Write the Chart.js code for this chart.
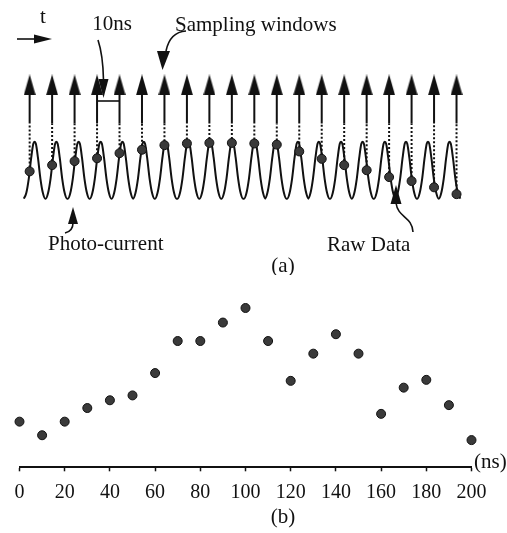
<!DOCTYPE html>
<html>
<head>
<meta charset="utf-8">
<script src="https://cdn.jsdelivr.net/npm/chart.js@4.4.1/dist/chart.umd.min.js"></script>
<style>
  html, body { margin: 0; padding: 0; background: #fff; }
  #wrap { position: relative; width: 507px; height: 533px; }
  #chartA { position: absolute; left: 0; top: 0; }
  #chartB { position: absolute; left: 0; top: 275px; }
</style>
</head>
<body>
<div id="wrap">
  <canvas id="chartA" width="507" height="275"></canvas>
  <canvas id="chartB" width="507" height="258"></canvas>
</div>
<script>
// (a) sampling schematic - times in ns, levels relative to pulse peak
const sampleTimes = [0, 10, 20, 30, 40, 50, 60, 70, 80, 90, 100, 110, 120, 130, 140, 150, 160, 170, 180, 190];
const sampleLevels = [0.48, 0.59, 0.66, 0.71, 0.80, 0.86, 0.94, 0.97, 0.98, 0.98, 0.97, 0.95, 0.83, 0.70, 0.59, 0.50, 0.38, 0.31, 0.20, 0.08];
const pulseTimes = [2.2, 11.9, 21.8, 31.6, 41.3, 50.8, 60.6, 70.6, 80.4, 90.2, 100.2, 109.5, 119.4, 128.7, 138.6, 148.2, 158.1, 167.5, 177.3, 186.9];
const pulseOffsets = [-4.8, -3.7, -2.6, -1.5, -0.6, 0, 0.6, 1.5, 2.6, 3.7, 4.8];
const pulseLevels = [0, 0.1, 0.35, 0.72, 0.96, 1, 0.96, 0.72, 0.35, 0.1, 0];

// (b) reconstructed data
const timeNs = [0, 10, 20, 30, 40, 50, 60, 70, 80, 90, 100, 110, 120, 130, 140, 150, 160, 170, 180, 190, 200];
const rawData = [4.7, 3.3, 4.7, 6.1, 6.9, 7.4, 9.7, 13.0, 13.0, 14.9, 16.4, 13.0, 8.9, 11.7, 13.7, 11.7, 5.5, 8.2, 9.0, 6.4, 2.8];
const timeTicks = [0, 20, 40, 60, 80, 100, 120, 140, 160, 180, 200];

const SERIF = '"Liberation Serif", "Times New Roman", serif';
const INK = '#111';

// where the sampling arrows go (in level units)
const STEM_TOP = 1.32;
const SHAFT_TOP = 1.84;
const HEAD_MID = 2.0;

function makeHead(w, h) {
    const c = document.createElement('canvas');
    c.width = w;
    c.height = h;
    const g = c.getContext('2d');
    g.fillStyle = INK;
    g.beginPath();
    g.moveTo(w / 2, 0);
    g.lineTo(w, h);
    g.lineTo(0, h);
    g.closePath();
    g.fill();
    return c;
}
const headUp = makeHead(12, 21);

function tri(ctx, pts) {
    ctx.beginPath();
    ctx.moveTo(pts[0][0], pts[0][1]);
    ctx.lineTo(pts[1][0], pts[1][1]);
    ctx.lineTo(pts[2][0], pts[2][1]);
    ctx.closePath();
    ctx.fill();
}

function label(ctx, text, x, y, align) {
    ctx.font = '21px ' + SERIF;
    ctx.fillStyle = INK;
    ctx.textAlign = align || 'left';
    ctx.textBaseline = 'middle';
    ctx.fillText(text, x, y);
}

// text and pointer arrows for panel (a)
const annotA = {
    id: 'annotA',
    afterDatasetsDraw(chart) {
        const ctx = chart.ctx;
        const xs = chart.scales.x;
        ctx.save();
        ctx.strokeStyle = INK;
        ctx.fillStyle = INK;
        ctx.lineWidth = 1.6;

        // time arrow
        label(ctx, 't', 43, 17, 'center');
        ctx.beginPath();
        ctx.moveTo(17, 39);
        ctx.lineTo(36, 39);
        ctx.stroke();
        tri(ctx, [[34, 34.5], [52, 39], [34, 43.5]]);

        // 10ns bracket between two sampling windows
        label(ctx, '10ns', 112, 24, 'center');
        ctx.beginPath();
        ctx.moveTo(98, 40);
        ctx.quadraticCurveTo(103, 55, 103.5, 80);
        ctx.stroke();
        tri(ctx, [[98.5, 79], [108.5, 79], [103.5, 98]]);
        ctx.beginPath();
        ctx.moveTo(xs.getPixelForValue(sampleTimes[3]), 101);
        ctx.lineTo(xs.getPixelForValue(sampleTimes[4]), 101);
        ctx.stroke();

        // sampling windows
        label(ctx, 'Sampling windows', 175, 25);
        ctx.beginPath();
        ctx.moveTo(186, 31);
        ctx.quadraticCurveTo(170, 32, 166, 51);
        ctx.stroke();
        tri(ctx, [[157, 51], [170, 51], [162.5, 70]]);

        // photo-current pointer
        tri(ctx, [[73, 207], [78, 224], [68, 224]]);
        ctx.beginPath();
        ctx.moveTo(73, 223);
        ctx.quadraticCurveTo(73, 231, 65, 233);
        ctx.stroke();
        label(ctx, 'Photo-current', 48, 244);

        // raw data pointer
        tri(ctx, [[396, 185], [401.5, 204], [390.5, 204]]);
        ctx.beginPath();
        ctx.moveTo(396, 203);
        ctx.bezierCurveTo(398, 218, 412, 216, 413, 232);
        ctx.stroke();
        label(ctx, 'Raw Data', 327, 245);

        label(ctx, '(a)', 283, 266, 'center');
        ctx.restore();
    }
};

const annotB = {
    id: 'annotB',
    afterDraw(chart) {
        const ctx = chart.ctx;
        ctx.save();
        label(ctx, '(ns)', 474, 187);
        label(ctx, '(b)', 283, 242, 'center');
        ctx.restore();
    }
};

new Chart(document.getElementById('chartA'), {
    type: 'scatter',
    data: {
        datasets: [
            {
                data: sampleTimes.map((t, i) => ({ x: t, y: sampleLevels[i] })),
                pointRadius: 4.5,
                backgroundColor: '#3a3a3a',
                borderColor: INK,
                borderWidth: 1
            },
            {
                data: sampleTimes.map(t => ({ x: t, y: HEAD_MID })),
                pointStyle: headUp,
                pointRadius: 6
            },
            {
                data: sampleTimes.flatMap(t => [{ x: t, y: STEM_TOP }, { x: t, y: SHAFT_TOP }, { x: t, y: null }]),
                showLine: true,
                spanGaps: false,
                borderColor: INK,
                borderWidth: 2,
                pointRadius: 0
            },
            {
                data: sampleTimes.flatMap((t, i) => [{ x: t, y: sampleLevels[i] }, { x: t, y: STEM_TOP }, { x: t, y: null }]),
                showLine: true,
                spanGaps: false,
                borderColor: INK,
                borderWidth: 2,
                borderDash: [2, 2],
                pointRadius: 0
            },
            {
                data: pulseTimes.flatMap(c => pulseOffsets.map((o, i) => ({ x: c + o, y: pulseLevels[i] }))),
                showLine: true,
                borderColor: INK,
                borderWidth: 2,
                cubicInterpolationMode: 'monotone',
                pointRadius: 0
            }
        ]
    },
    options: {
        responsive: false,
        animation: false,
        events: [],
        layout: { padding: 0 },
        plugins: { legend: { display: false }, tooltip: { enabled: false } },
        scales: {
            x: { type: 'linear', display: false, min: -10.08, max: 209.35 },
            y: { display: false, min: -1.217, max: 3.367 }
        }
    },
    plugins: [annotA]
});

new Chart(document.getElementById('chartB'), {
    type: 'scatter',
    data: {
        datasets: [{
            data: timeNs.map((t, i) => ({ x: t, y: rawData[i] })),
            clip: false,
            pointRadius: 4.5,
            backgroundColor: '#3a3a3a',
            borderColor: INK,
            borderWidth: 1
        }]
    },
    options: {
        responsive: false,
        animation: false,
        events: [],
        layout: { padding: { left: 19.5, right: 35.5, top: 0, bottom: 29.7 } },
        plugins: { legend: { display: false }, tooltip: { enabled: false } },
        scales: {
            x: {
                type: 'linear',
                min: 0,
                max: 200,
                afterBuildTicks: function (scale) {
                    scale.ticks = timeTicks.map(v => ({ value: v }));
                },
                afterFit: function (scale) {
                    scale.height = 36; // keep the axis line where the original has it
                },
                ticks: {
                    color: INK,
                    font: { family: SERIF, size: 20 },
                    padding: 9,
                    maxRotation: 0,
                    autoSkip: false
                },
                grid: {
                    display: true,
                    drawOnChartArea: false,
                    drawTicks: true,
                    tickLength: 4,
                    tickWidth: 1.5,
                    tickColor: INK
                },
                border: { display: true, color: INK, width: 2 }
            },
            y: { display: false, min: 0, max: 19.23 }
        }
    },
    plugins: [annotB]
});
</script>
</body>
</html>
